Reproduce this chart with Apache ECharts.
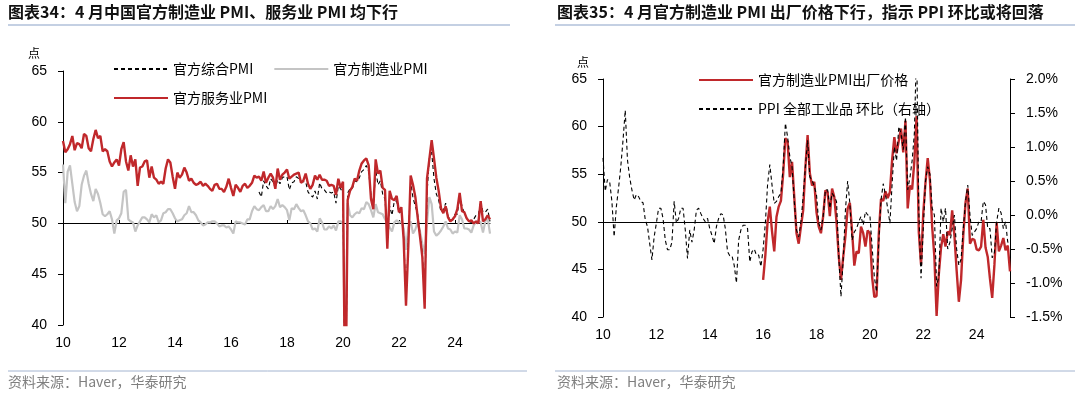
<!DOCTYPE html>
<html>
<head>
<meta charset="utf-8">
<script src="https://cdn.jsdelivr.net/npm/echarts@6/dist/echarts.min.js"></script>
<style>
  html, body { margin: 0; background: #fff; }
  #main { width: 1080px; height: 397px; }
</style>
</head>
<body>
<div id="main"></div>
<script>
// months 2010-01 .. 2025-04
var months = [];
for (var y = 2010; y <= 2025; y++) {
  for (var m = 1; m <= 12; m++) {
    if (y === 2025 && m > 4) break;
    months.push(y + '-' + (m < 10 ? '0' + m : m));
  }
}

// 图表34
var mfgPmi = [
  55.8, 52.0, 55.1, 55.7, 53.9, 52.1, 51.2, 51.7, 53.8, 54.7, 55.2, 53.9,
  52.9, 52.2, 53.4, 52.9, 52.0, 50.9, 50.7, 50.9, 51.2, 50.4, 49.0, 50.3,
  50.5, 51.0, 53.1, 53.3, 50.4, 50.2, 50.1, 49.2, 49.8, 50.2, 50.6, 50.6,
  50.4, 50.1, 50.9, 50.6, 50.8, 50.1, 50.3, 51.0, 51.1, 51.4, 51.4, 51.0,
  50.5, 50.2, 50.3, 50.4, 50.8, 51.0, 51.7, 51.1, 51.1, 50.8, 50.3, 50.1,
  49.8, 49.9, 50.1, 50.1, 50.2, 50.2, 50.0, 49.7, 49.8, 49.8, 49.6, 49.7,
  49.4, 49.0, 50.2, 50.1, 50.1, 50.0, 49.9, 50.4, 50.4, 51.2, 51.7, 51.4,
  51.3, 51.6, 51.8, 51.2, 51.2, 51.7, 51.4, 51.7, 52.4, 51.6, 51.8, 51.6,
  51.3, 50.3, 51.5, 51.4, 51.9, 51.5, 51.2, 51.3, 50.8, 50.2, 50.0, 49.4,
  49.5, 49.2, 50.5, 50.1, 49.4, 49.4, 49.7, 49.5, 49.8, 49.3, 50.2, 50.2,
  50.0, 35.7, 52.0, 50.8, 50.6, 50.9, 51.1, 51.0, 51.5, 51.4, 52.1, 51.9,
  51.3, 50.6, 51.9, 51.1, 51.0, 50.9, 50.4, 50.1, 49.6, 49.2, 50.1, 50.3,
  50.1, 50.2, 49.5, 47.4, 49.6, 50.2, 49.0, 49.4, 50.1, 49.2, 48.0, 47.0,
  50.1, 52.6, 51.9, 49.2, 48.8, 49.0, 49.3, 49.7, 50.2, 49.5, 49.4, 49.0,
  49.2, 49.1, 50.8, 50.4, 49.5, 49.5, 49.4, 49.1, 49.8, 50.1, 50.3, 50.1,
  49.1, 50.2, 50.5, 49.0
];

var servicePmi = [
  58.1, 57.0, 57.3, 57.8, 58.6, 57.2, 57.9, 57.8, 57.4, 58.8, 58.6, 57.4,
  57.1, 58.3, 59.2, 58.4, 58.6, 57.1, 57.3, 57.1, 56.1, 55.6, 56.0, 56.3,
  55.7, 57.3, 58.0, 56.1, 55.2, 56.7, 55.6, 56.3, 53.7, 55.5, 55.6, 56.1,
  56.2, 54.5, 55.6, 54.5, 54.3, 53.9, 54.1, 53.9, 55.4, 56.3, 56.0, 54.6,
  53.4, 55.0, 54.5, 54.8, 55.5, 55.0, 54.2, 54.4, 54.0, 53.8, 53.9, 54.1,
  53.7, 53.9, 53.7, 53.4, 53.2, 53.8, 53.9, 53.4, 53.4, 53.1, 53.6, 54.4,
  53.5, 52.7, 53.8, 53.5, 53.1, 53.7, 53.9, 53.5, 53.7, 54.0, 54.7, 54.5,
  54.6, 54.2, 55.1, 54.0, 54.5, 54.9, 54.5, 53.4, 55.4, 54.3, 54.8, 55.0,
  55.3, 54.4, 54.6, 54.8, 54.9, 55.0, 54.0, 54.2, 54.9, 53.9, 53.4, 53.8,
  54.7, 54.3, 54.8, 54.3, 54.3, 54.2, 53.7, 53.8, 53.7, 52.8, 54.4, 53.5,
  54.1, 29.6, 52.3, 53.2, 53.6, 54.4, 54.2, 55.2, 55.9, 56.2, 56.4, 55.7,
  52.4, 51.4, 56.3, 54.9, 55.2, 53.5, 53.3, 47.5, 53.2, 52.4, 52.3, 52.7,
  51.1, 51.6, 48.4, 41.9, 47.8, 54.7, 53.8, 52.6, 50.6, 48.7, 46.7, 41.6,
  54.4, 56.3, 58.2, 56.4, 54.5, 53.2, 51.5, 51.0, 51.7, 50.6, 50.2, 50.4,
  50.7, 51.4, 53.0, 51.2, 51.1, 50.5, 50.2, 50.3, 50.0, 50.2, 50.0, 52.2,
  50.2, 50.4, 50.8, 50.4
];

// composite PMI starts 2017-01
var compositePmi = Array(84).fill(null).concat([
  53.1, 52.6, 54.2, 53.7, 53.4, 54.4, 54.1, 53.5, 54.3, 53.9, 54.5, 54.6,
  54.6, 53.3, 54.0, 54.1, 54.6, 54.4, 54.1, 54.1, 54.1, 53.1, 52.8, 52.6,
  53.2, 52.4, 54.0, 53.4, 53.3, 53.0, 53.1, 53.0, 53.1, 52.0, 53.7, 53.4,
  53.0, 28.9, 53.0, 53.4, 53.4, 54.2, 54.1, 54.5, 55.1, 55.3, 55.7, 55.1,
  52.8, 51.6, 55.3, 53.8, 54.2, 52.9, 52.4, 48.9, 51.7, 50.8, 52.2, 52.2,
  51.0, 51.2, 48.8, 42.7, 48.4, 54.1, 52.5, 51.7, 50.9, 49.0, 47.1, 42.6,
  52.9, 56.4, 57.0, 54.4, 52.9, 52.3, 51.1, 51.3, 52.0, 50.7, 50.4, 50.3,
  50.9, 50.9, 52.7, 51.7, 51.0, 50.5, 50.2, 50.1, 50.4, 50.8, 50.8, 52.2,
  51.1, 51.1, 51.4, 50.2
]);

// 图表35
var ppiMom = [
  0.84, 0.35, 0.52, 0.49, 0.20, -0.32, 0.12, 0.40, 0.71, 1.10, 1.54, 0.81,
  0.55, 0.37, 0.22, 0.30, 0.27, 0.20, 0.18, -0.07, -0.17, -0.42, -0.66, -0.32,
  -0.12, 0.10, 0.10, -0.05, -0.37, -0.51, -0.51, -0.40, 0.20, -0.12, -0.05, 0.10,
  0.10, -0.22, -0.64, -0.22, -0.40, -0.22, 0.07, 0.10, 0.02, -0.05, -0.10, -0.05,
  -0.20, -0.30, -0.42, -0.17, -0.05, 0.02, 0.00, -0.20, -0.54, -0.60, -0.60, -0.74,
  -1.00, -0.37, -0.22, -0.15, -0.15, -0.20, -0.69, -0.54, -0.50, -0.59, -0.59, -0.76,
  -0.50, -0.12, 0.45, 0.74, 0.44, 0.17, 0.20, 0.27, 0.32, 0.70, 1.35, 1.15,
  0.86, 0.71, 0.20, -0.22, -0.32, -0.10, 0.27, 0.71, 1.10, 0.56, 0.51, 0.42,
  0.30, -0.12, -0.22, -0.02, 0.37, 0.37, 0.10, 0.32, 0.27, 0.20, -0.61, -1.20,
  -0.66, 0.07, 0.50, 0.17, -0.37, -0.25, -0.20, -0.10, -0.02, -0.15, 0.05, 0.00,
  0.00, -0.47, -0.91, -1.13, -0.40, 0.22, 0.46, 0.30, 0.10, -0.12, 0.46, 1.00,
  0.80, 1.30, 1.20, 0.96, 1.44, 0.37, 0.55, 0.80, 1.20, 2.50, 0.05, -0.93,
  -0.20, 0.50, 0.71, 0.60, 0.10, 0.00, -1.05, -0.90, 0.10, -0.10, 0.10, -0.50,
  -0.40, -0.20, 0.00, -0.50, -0.74, -0.65, -0.20, 0.20, 0.44, 0.00, -0.30, -0.25,
  -0.20, -0.10, -0.10, 0.20, 0.15, -0.20, -0.20, -0.63, -0.55, -0.10, 0.10, 0.03,
  -0.20, -0.10, -0.40, -0.40
];

// output price index starts 2016-01
var outputPrice = Array(72).fill(null).concat([
  43.9, 46.5, 50.0, 51.6, 49.0, 46.9, 50.5, 51.6, 52.2, 55.0, 58.8, 58.4,
  54.7, 56.3, 52.6, 48.8, 47.7, 49.5, 51.2, 55.7, 59.1, 55.1, 53.8, 54.2,
  51.0, 49.5, 48.8, 50.6, 53.3, 53.1, 50.6, 53.5, 52.6, 50.0, 46.4, 43.9,
  46.3, 48.5, 51.4, 52.0, 49.0, 45.4, 46.9, 46.7, 49.5, 48.8, 47.4, 49.1,
  48.8, 44.2, 42.1, 42.2, 48.7, 52.4, 52.2, 53.2, 52.5, 53.1, 56.5, 58.9,
  57.2, 58.5, 59.8, 57.3, 60.6, 51.4, 53.8, 53.4, 56.4, 61.1, 48.9, 45.5,
  50.9, 54.1, 56.7, 54.4, 49.5, 46.3, 40.1, 44.5, 47.3, 48.7, 47.4, 49.0,
  48.6, 51.2, 48.6, 44.9, 41.6, 43.9, 48.6, 52.0, 53.5, 47.7, 48.2, 48.1,
  47.1, 47.0, 47.4, 50.2, 47.3, 46.3, 44.0, 42.0, 45.5, 49.9, 46.9, 47.5,
  48.3, 47.0, 47.5, 44.8
]);

var evenYearJan = function (idx, val) {
  return val.slice(5) === '01' && parseInt(val.slice(0, 4), 10) % 2 === 0;
};

var numFont = 'Liberation Sans';
var cjkFont = 'Noto Sans CJK SC';
var red = '#c0282b';

function labelAxis(grid) {
  return {
    type: 'category', gridIndex: grid, data: months, boundaryGap: false,
    axisLine: { show: false }, axisTick: { show: false }, splitLine: { show: false },
    axisLabel: {
      interval: evenYearJan, formatter: function (v) { return v.slice(2, 4); },
      fontFamily: numFont, fontSize: 14, color: '#000', margin: 11
    }
  };
}
function fiftyAxis(grid, offset, ticks) {
  return {
    type: 'category', gridIndex: grid, data: months, boundaryGap: false,
    position: 'bottom', offset: offset,
    axisLine: { show: true, lineStyle: { color: '#000', width: 1 } },
    axisTick: { show: ticks, inside: true, length: 3, interval: evenYearJan, lineStyle: { color: '#000' } },
    axisLabel: { show: false }, splitLine: { show: false }
  };
}
function valueAxis(grid, pos, min, max, step, fmt) {
  return {
    type: 'value', gridIndex: grid, position: pos, min: min, max: max, interval: step,
    splitLine: { show: false },
    axisLine: { show: true, lineStyle: { color: '#000', width: 1 } },
    axisTick: { show: true, length: 5, lineStyle: { color: '#000' } },
    axisLabel: { fontFamily: numFont, fontSize: 14, color: '#000', margin: 16, formatter: fmt }
  };
}
function legendAt(names, left, top, gap) {
  return {
    data: names, left: left, top: top, itemWidth: 54, itemHeight: 14, itemGap: gap || 10,
    itemStyle: { opacity: 0 },
    textStyle: { fontFamily: cjkFont, fontSize: 14, color: '#000' }
  };
}

var chart = echarts.init(document.getElementById('main'));
chart.setOption({
  animation: false,
  backgroundColor: '#fff',
  grid: [
    { left: 63, right: 590, top: 71, bottom: 72 },
    { left: 603, right: 70, top: 79, bottom: 80 }
  ],
  xAxis: [
    labelAxis(0),
    fiftyAxis(0, -102, true),
    labelAxis(1),
    fiftyAxis(1, -95, false)
  ],
  yAxis: [
    valueAxis(0, 'left', 40, 65, 5),
    valueAxis(1, 'left', 40, 65, 5),
    valueAxis(1, 'right', -1.5, 2.0, 0.5, function (v) { return v.toFixed(1) + '%'; })
  ],
  legend: [
    legendAt(['官方综合PMI', '官方制造业PMI'], 108, 57, 20),
    legendAt(['官方服务业PMI'], 108, 86),
    legendAt(['官方制造业PMI出厂价格'], 693, 68),
    legendAt(['PPI 全部工业品 环比（右轴）'], 693, 97)
  ],
  series: [
    { name: '官方制造业PMI', type: 'line', xAxisIndex: 0, yAxisIndex: 0, data: mfgPmi,
      symbol: 'none', color: '#c4c4c4', lineStyle: { width: 2.2, color: '#c4c4c4' } },
    { name: '官方综合PMI', type: 'line', xAxisIndex: 0, yAxisIndex: 0, data: compositePmi,
      symbol: 'none', color: '#000', lineStyle: { width: 1.1, color: '#000', type: [4, 3] } },
    { name: '官方服务业PMI', type: 'line', xAxisIndex: 0, yAxisIndex: 0, data: servicePmi,
      symbol: 'none', color: red, lineStyle: { width: 2.4, color: red } },
    { name: '官方制造业PMI出厂价格', type: 'line', xAxisIndex: 2, yAxisIndex: 1, data: outputPrice,
      symbol: 'none', color: red, lineStyle: { width: 2.4, color: red } },
    { name: 'PPI 全部工业品 环比（右轴）', type: 'line', xAxisIndex: 2, yAxisIndex: 2, data: ppiMom,
      symbol: 'none', color: '#000', lineStyle: { width: 1.1, color: '#000', type: [4, 3] } }
  ],
  graphic: [
    { type: 'text', left: 8, top: 4, style: { text: '图表34：4 月中国官方制造业 PMI、服务业 PMI 均下行',
      font: 'bold 16px "Noto Sans CJK SC"', fill: '#111' } },
    { type: 'text', left: 557, top: 4, style: { text: '图表35：4 月官方制造业 PMI 出厂价格下行，指示 PPI 环比或将回落',
      font: 'bold 16px "Noto Sans CJK SC"', fill: '#111' } },
    { type: 'line', shape: { x1: 8, y1: 25, x2: 510, y2: 25 }, style: { stroke: '#8aa2c8', lineWidth: 1.2 } },
    { type: 'line', shape: { x1: 555, y1: 25, x2: 1075, y2: 25 }, style: { stroke: '#8aa2c8', lineWidth: 1.2 } },
    { type: 'line', shape: { x1: 8, y1: 371, x2: 527, y2: 371 }, style: { stroke: '#a3b4d0', lineWidth: 1 } },
    { type: 'line', shape: { x1: 555, y1: 371, x2: 1075, y2: 371 }, style: { stroke: '#a3b4d0', lineWidth: 1 } },
    { type: 'text', left: 28, top: 47, style: { text: '点', font: '12px "Noto Sans CJK SC"', fill: '#000' } },
    { type: 'text', left: 577, top: 56, style: { text: '点', font: '12px "Noto Sans CJK SC"', fill: '#000' } },
    { type: 'text', left: 8, top: 375, style: { text: '资料来源：Haver，华泰研究', font: '14px "Noto Sans CJK SC"', fill: '#7f7f7f' } },
    { type: 'text', left: 557, top: 375, style: { text: '资料来源：Haver，华泰研究', font: '14px "Noto Sans CJK SC"', fill: '#7f7f7f' } }
  ]
});
</script>
</body>
</html>
